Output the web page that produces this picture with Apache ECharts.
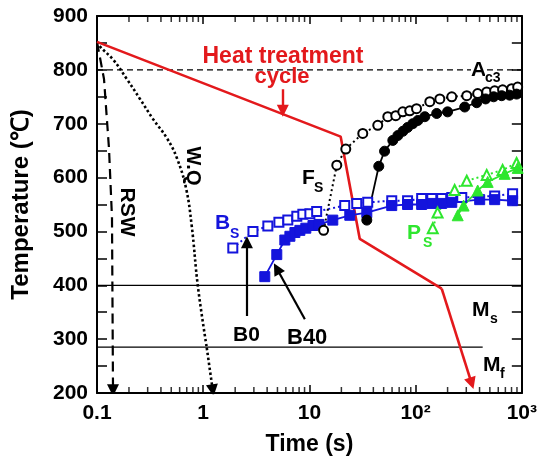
<!DOCTYPE html>
<html>
<head>
<meta charset="utf-8">
<script src="https://cdn.jsdelivr.net/npm/echarts@6/dist/echarts.min.js"></script>
<style>
  html, body { margin: 0; padding: 0; background: #fff; }
  #chart { width: 540px; height: 461px; }
</style>
</head>
<body>
<div id="chart"></div>
<script>
// tick labels
const xTickLabels = ['0.1', '1', '10', '10²', '10³'];
const xMinorTicks = [0.2, 0.3, 0.4, 0.5, 0.6, 0.7, 0.8, 0.9, 2, 3, 4, 5, 6, 7, 8, 9,
  20, 30, 40, 50, 60, 70, 80, 90, 200, 300, 400, 500, 600, 700, 800, 900];

// reference lines [time, temperature]
const ac3Line = [[0.1, 800], [1000, 800]];
const msLine = [[0.1, 400], [1000, 400]];
const mfLine = [[0.1, 285], [428, 285]];

// heat treatment cycle (red), last segment carries the arrow
const cycleBody = [[0.1, 852], [19.7, 676], [29.8, 486], [176, 394]];
const cycleArrow = [[176, 394], [337, 218]];

// cooling curves
const rswBody = [[0.1, 852], [0.1164, 783], [0.1297, 654], [0.1384, 526]];
const rswArrow = [[0.1384, 526], [0.1415, 205]];
const wqBody = [[0.1, 852], [0.107, 843], [0.142, 819], [0.191, 783], [0.254, 746],
  [0.336, 709], [0.456, 673], [0.566, 636], [0.69, 580], [0.78, 510], [0.891, 398], [1.08, 284]];
const wqArrow = [[1.08, 284], [1.23, 205]];

// measured start temperatures
const openCircles = [[13.6, 502], [18.1, 623], [22, 653], [31.8, 682], [44, 697], [54.7, 713],
  [65, 715], [75.7, 722], [88, 724], [102, 728], [136, 741], [169, 746], [219, 750], [303, 752],
  [384, 756], [467, 759], [555, 761], [659, 763], [802, 765], [914, 768]];
const filledCircles = [[34.7, 521], [45, 621], [51, 649], [61, 669], [68, 678], [76, 686],
  [84, 693], [94, 700], [105, 706], [122, 713], [158, 719], [200, 722], [290, 731], [376, 739],
  [456, 746], [543, 750], [646, 752], [768, 753], [893, 755]];
const openSquares = [[1.90, 469], [2.94, 500], [4.06, 510], [5.16, 517], [6.26, 521], [7.61, 528],
  [8.67, 532], [10.1, 533], [11.7, 537], [21.5, 548], [27.9, 552], [35.4, 554], [59.6, 557],
  [84, 557], [114, 561], [142, 561], [176, 561], [219, 563], [272, 563], [555, 566], [819, 570]];
const filledSquares = [[3.80, 416], [4.93, 457], [5.87, 484], [6.55, 491], [7.30, 498], [8.13, 502],
  [9.25, 506], [10.8, 511], [12.3, 513], [16.6, 521], [24, 530], [34.7, 535], [59.6, 548],
  [84, 550], [114, 550], [142, 552], [176, 552], [219, 554], [401, 559], [555, 559], [819, 557]];
const openTriangles = [[145, 506], [161, 535], [233, 577], [303, 594], [467, 605], [659, 614], [893, 627]];
const filledTriangles = [[249, 530], [283, 548], [384, 576], [477, 592], [689, 607], [914, 618]];

// pointer arrows
const b0Arrow = [[2.58, 343], [2.58, 480]];
const b40Arrow = [[9.06, 337], [4.93, 431]];
const cycleLabelArrow = [[5.62, 764], [5.62, 724]];

const RED = '#e3191c';
const BLUE = '#1414dc';
const GREEN = '#2ee62e';
const FONT = '"Liberation Sans", Arial, sans-serif';

function lineSeries(data, color, width, type) {
  return {
    type: 'line', data: data, symbol: 'none', silent: true,
    lineStyle: { color: color, width: width, type: type || 'solid' }, z: 2
  };
}
function arrowSeries(coords, color, width, type) {
  return {
    type: 'lines', coordinateSystem: 'cartesian2d', silent: true,
    symbol: ['none', 'triangle'], symbolSize: [9, 12],
    lineStyle: { color: color, width: width, type: type || 'solid', opacity: 1 },
    data: [{ coords: coords }], z: 4
  };
}
function markerSeries(data, symbol, color, filled, size, lineType) {
  return {
    type: 'line', data: data, symbol: symbol, symbolSize: size, silent: true,
    lineStyle: { color: color, width: filled ? 1.8 : 2, type: lineType },
    itemStyle: filled ? { color: color, borderColor: color, borderWidth: 1 }
      : { color: '#fff', borderColor: color, borderWidth: 2 },
    z: 3
  };
}
function txt(x, y, text, size, color, extra) {
  return Object.assign({
    type: 'text', x: x, y: y, z: 10,
    style: Object.assign({
      text: text, fill: color || '#000', font: 'bold ' + size + 'px ' + FONT,
      align: 'left', verticalAlign: 'middle'
    }, (extra && extra.style) || {})
  }, extra ? { rotation: extra.rotation || 0 } : {});
}

const tickLabel = function (v) {
  return xTickLabels[Math.round(Math.log10(v)) + 1];
};

const chart = echarts.init(document.getElementById('chart'), null, { renderer: 'canvas' });
chart.setOption({
  animation: false,
  grid: { left: 97, right: 17, top: 16, bottom: 63 },
  xAxis: [{
    type: 'log', logBase: 10, min: 0.1, max: 1000, position: 'bottom',
    axisLine: { lineStyle: { color: '#000', width: 2 } },
    axisTick: { inside: true, length: 8, lineStyle: { color: '#000', width: 1.5 } },
    axisLabel: { formatter: tickLabel, color: '#000', fontSize: 21, fontWeight: 'bold', fontFamily: FONT, margin: 10 },
    splitLine: { show: false },
    name: 'Time (s)', nameLocation: 'middle', nameGap: 40,
    nameTextStyle: { color: '#000', fontSize: 23, fontWeight: 'bold', fontFamily: FONT }
  }, {
    type: 'log', logBase: 10, min: 0.1, max: 1000, position: 'top',
    axisLine: { lineStyle: { color: '#000', width: 2 } },
    axisTick: { inside: true, length: 8, lineStyle: { color: '#000', width: 1.5 } },
    axisLabel: { show: false }, splitLine: { show: false }
  }],
  yAxis: [{
    type: 'value', min: 200, max: 900, interval: 100, position: 'left',
    axisLine: { show: true, lineStyle: { color: '#000', width: 2 } },
    axisTick: { show: true, inside: true, length: 10, lineStyle: { color: '#000', width: 1.5 } },
    minorTick: { show: true, splitNumber: 2, length: 10, lineStyle: { color: '#000', width: 1.5 } },
    axisLabel: { color: '#000', fontSize: 21, fontWeight: 'bold', fontFamily: FONT, margin: 9 },
    splitLine: { show: false },
    name: 'Temperature (℃)', nameLocation: 'middle', nameGap: 64,
    nameTextStyle: { color: '#000', fontSize: 24, fontWeight: 'bold', fontFamily: FONT }
  }, {
    type: 'value', min: 200, max: 900, interval: 100, position: 'right',
    axisLine: { show: true, lineStyle: { color: '#000', width: 2 } },
    axisTick: { show: true, inside: true, length: 10, lineStyle: { color: '#000', width: 1.5 } },
    minorTick: { show: true, splitNumber: 2, length: 10, lineStyle: { color: '#000', width: 1.5 } },
    axisLabel: { show: false }, splitLine: { show: false }
  }],
  series: [
    // log minor ticks on bottom and top edges
    {
      type: 'scatter', silent: true, clip: false, symbol: 'rect', symbolSize: [1.5, 6],
      symbolOffset: [0, -3], itemStyle: { color: '#000' },
      data: xMinorTicks.map(function (v) { return [v, 200]; }), z: 5
    },
    {
      type: 'scatter', silent: true, clip: false, symbol: 'rect', symbolSize: [1.5, 6],
      symbolOffset: [0, 3], itemStyle: { color: '#000' },
      data: xMinorTicks.map(function (v) { return [v, 900]; }), z: 5
    },
    lineSeries(ac3Line, '#000', 1.3, [6, 4]),
    lineSeries(msLine, '#000', 1.3),
    lineSeries(mfLine, '#000', 1.3),
    lineSeries(rswBody, '#000', 2.2, [10, 6]),
    arrowSeries(rswArrow, '#000', 2.2, [10, 6]),
    Object.assign(lineSeries(wqBody, '#000', 2.6, [2.5, 2.5]), { smooth: 0.4 }),
    arrowSeries(wqArrow, '#000', 2.6, [2.5, 2.5]),
    markerSeries(openSquares, 'rect', BLUE, false, 9, [2, 3]),
    markerSeries(filledSquares, 'rect', BLUE, true, 10, 'solid'),
    markerSeries(openTriangles, 'triangle', GREEN, false, 10, [2, 3]),
    markerSeries(filledTriangles, 'triangle', GREEN, true, 11, 'solid'),
    markerSeries(openCircles, 'circle', '#000', false, 9, [2, 3]),
    markerSeries(filledCircles, 'circle', '#000', true, 10, 'solid'),
    lineSeries(cycleBody, RED, 2.6),
    arrowSeries(cycleArrow, RED, 2.6),
    arrowSeries(cycleLabelArrow, RED, 2.4),
    arrowSeries(b0Arrow, '#000', 2.2),
    arrowSeries(b40Arrow, '#000', 2.2)
  ],
  graphic: [
    txt(283, 57, 'Heat treatment', 23, RED, { style: { align: 'center' } }),
    txt(282, 77, 'cycle', 22, RED, { style: { align: 'center' } }),
    txt(471, 70, 'A', 21, '#000', { style: { backgroundColor: '#fff' } }),
    txt(485, 78, 'c3', 14, '#000', { style: { backgroundColor: '#fff' } }),
    txt(215, 223, 'B', 21, BLUE),
    txt(230, 234, 'S', 14, BLUE),
    txt(302, 178, 'F', 21, '#000'),
    txt(314, 188, 'S', 14, '#000'),
    txt(407, 233, 'P', 21, GREEN),
    txt(423, 243, 'S', 14, GREEN),
    txt(472, 310, 'M', 21, '#000'),
    txt(490, 319, 's', 14, '#000'),
    txt(483, 365, 'M', 21, '#000'),
    txt(500, 374, 'f', 14, '#000'),
    txt(233, 335, 'B0', 21, '#000'),
    txt(287, 338, 'B40', 22, '#000'),
    txt(127, 212, 'RSW', 21, '#000', { rotation: -Math.PI / 2, style: { align: 'center' } }),
    txt(193, 166, 'W.Q', 20, '#000', { rotation: -Math.PI / 2, style: { align: 'center' } })
  ]
});
</script>
</body>
</html>
